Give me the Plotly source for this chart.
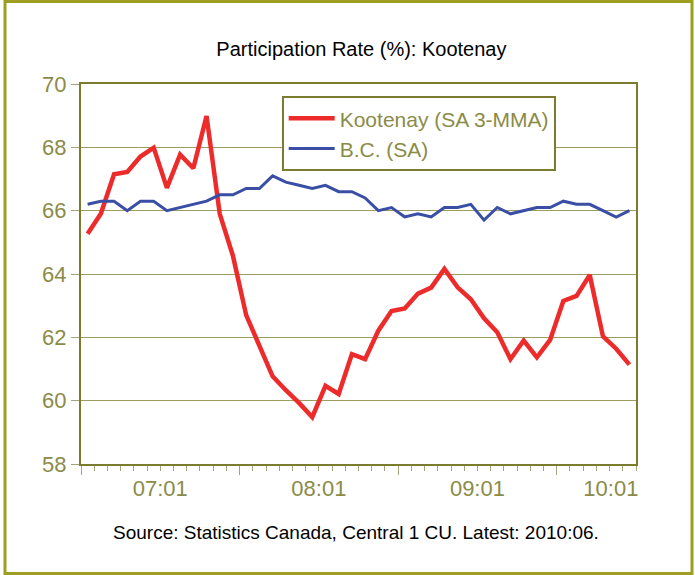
import plotly.graph_objects as go

# Monthly categories 2007:01 .. 2010:06
months = [f"{y:02d}:{m:02d}" for y in range(7, 11) for m in range(1, 13)][:42]

kootenay = [65.27, 65.9, 67.15, 67.22, 67.71, 67.99, 66.72, 67.77, 67.34, 68.99,
            65.9, 64.57, 62.7, 61.72, 60.77, 60.33, 59.93, 59.48, 60.47, 60.21,
            61.47, 61.31, 62.21, 62.83, 62.91, 63.38, 63.57, 64.16, 63.58, 63.2,
            62.6, 62.16, 61.31, 61.9, 61.37, 61.92, 63.15, 63.31, 63.97, 62.03,
            61.64, 61.14]

bc = [66.2, 66.3, 66.3, 66.0, 66.3, 66.3, 66.0, 66.1, 66.2, 66.3,
      66.5, 66.5, 66.7, 66.7, 67.1, 66.9, 66.8, 66.7, 66.8, 66.6,
      66.6, 66.4, 66.0, 66.1, 65.8, 65.9, 65.8, 66.1, 66.1, 66.2,
      65.7, 66.1, 65.9, 66.0, 66.1, 66.1, 66.3, 66.2, 66.2, 66.0,
      65.8, 66.0]

tick_labels = ["07:01", "08:01", "09:01", "10:01"]
tick_label_pos = [5.5, 17.5, 29.5, 39.6]

x = list(range(len(months)))

OLIVE = "#7C7C30"
OLIVE_TXT = "#8B8B48"
GRID = "#9C9C5E"
TICKC = "#A4A47A"
FONT = "Liberation Sans, Arial, sans-serif"

fig = go.Figure()
fig.add_trace(go.Scatter(x=x, y=kootenay, mode="lines", name="Kootenay (SA 3-MMA)",
                         line=dict(color="#EE2B2B", width=4.5), customdata=months))
fig.add_trace(go.Scatter(x=x, y=bc, mode="lines", name="B.C. (SA)",
                         line=dict(color="#3A4EA6", width=3), customdata=months))

fig.update_layout(
    width=695, height=575,
    margin=dict(l=81, r=59, t=84, b=111),
    paper_bgcolor="white", plot_bgcolor="white",
    font=dict(family=FONT),
    title=dict(text="Participation Rate (%): Kootenay", x=0.52, xref="container",
               xanchor="center", y=1 - 49 / 575, yref="container", yanchor="middle",
               font=dict(size=20, color="black", family=FONT)),
    showlegend=True,
    legend=dict(x=0.3616, y=0.968, xanchor="left", yanchor="top",
                bgcolor="white", bordercolor=OLIVE, borderwidth=2,
                font=dict(size=21, color=OLIVE_TXT, family=FONT),
                itemwidth=46, entrywidth=243, tracegroupgap=0),
    xaxis=dict(range=[-0.5, 41.5], showgrid=False, zeroline=False,
               showline=True, linecolor=OLIVE, linewidth=2, mirror=True,
               ticks="outside", tickmode="linear", tick0=-0.5, dtick=12,
               ticklen=9, tickwidth=1, tickcolor=TICKC, showticklabels=False,
               minor=dict(ticks="outside", tickmode="linear", tick0=-0.5, dtick=1,
                          ticklen=5, tickwidth=1, tickcolor=TICKC, showgrid=False)),
    xaxis2=dict(range=[-0.5, 41.5], overlaying="x", anchor="y", side="bottom",
                showgrid=False, zeroline=False, showline=False,
                tickmode="array", tickvals=tick_label_pos, ticktext=tick_labels,
                ticks="outside", ticklen=5, tickcolor="rgba(0,0,0,0)",
                tickfont=dict(size=22, color=OLIVE_TXT, family=FONT)),
    yaxis=dict(range=[58, 70], tickmode="linear", tick0=58, dtick=2,
               showgrid=True, gridcolor=GRID, gridwidth=1, zeroline=False,
               showline=True, linecolor=OLIVE, linewidth=2, mirror=True,
               ticks="outside", ticklen=8, tickwidth=1, tickcolor=TICKC,
               tickfont=dict(size=22, color=OLIVE_TXT, family=FONT)),
)

# invisible trace so the label axis renders
fig.add_trace(go.Scatter(x=[x[0]], y=[kootenay[0]], xaxis="x2", mode="markers",
                         marker=dict(opacity=0), showlegend=False, hoverinfo="skip"))

fig.add_annotation(text="Source: Statistics Canada, Central 1 CU. Latest: 2010:06.",
                   xref="paper", yref="paper", x=0.4955, y=-0.179,
                   xanchor="center", yanchor="middle", showarrow=False,
                   font=dict(size=19, color="black", family=FONT))

# outer frame of the picture
fig.add_shape(type="rect", xref="paper", yref="paper",
              x0=(5 - 81) / 555, x1=(692 - 81) / 555,
              y0=(463.7 - 573) / 379.7, y1=(463.7 - 1.5) / 379.7,
              line=dict(color="#9E9E22", width=3), layer="below")

fig.write_html("out.html", config={"displayModeBar": False},
               post_script="document.body.style.margin='0';document.body.style.overflow='hidden';")
